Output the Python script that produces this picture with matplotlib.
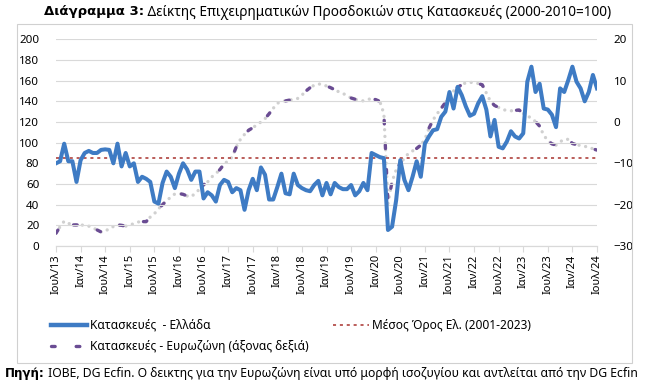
import numpy as np
import matplotlib.pyplot as plt
from matplotlib.lines import Line2D
from matplotlib.patches import Rectangle

plt.rcParams['font.family'] = ['Noto Sans', 'DejaVu Sans']

# Monthly values, Jul 2013 .. Jul 2024
greece = [
    80, 82, 99, 82, 82, 62, 83, 90, 92, 90,
    90, 93, 93.5, 93, 80, 99, 77, 90, 77, 80,
    62, 67, 65, 62, 43, 41, 61, 72, 67, 56,
    70, 80, 74, 64, 72, 72, 46, 52, 49, 43,
    59, 64, 62, 52, 56,
    54, 35, 54, 65, 54, 76, 69, 45, 45, 57,
    70, 51, 50, 70, 59, 56, 54, 53, 59, 63,
    49, 61, 50, 61, 57, 55, 55, 59, 49, 53,
    61, 54, 90, 88, 86, 85, 15.5, 18.7, 44.5, 83,
    64, 54, 67, 82,
    67, 99, 106, 112, 113, 125, 130, 149, 133, 154,
    146, 135, 126, 128, 138, 145, 132, 106, 122, 96,
    94.5, 101, 111, 106, 104, 109, 159, 173.5, 149, 157,
    133, 132, 127, 115, 152.5, 149, 160.6, 173.5, 159, 152.5,
    140, 149, 165.5, 152.5,
]

eurozone = [
    -26.9, -25.3, -24.0, -24.5, -24.9, -24.9, -24.9, -25.0, -25.2, -25.6,
    -26.1, -26.6, -26.5, -25.7, -25.3, -24.9, -25.0, -25.2, -24.9, -24.6,
    -24.2, -24.1, -24.1, -23.0, -22.2, -21.0, -20.0, -19.0, -18.2, -17.4,
    -17.3, -17.5, -17.9, -18.1, -17.2, -16.3, -15.2, -14.5, -13.3, -12.5,
    -11.5, -10.2, -9.4, -8.5, -6.0, -4.2, -3.0, -2.0, -1.4, -0.7,
    0.0, 0.8, 2.0, 3.3, 4.5, 5.0, 5.1, 5.3, 5.5, 5.7,
    6.5, 7.5, 8.3, 8.9, 9.2, 9.1, 8.7, 8.3, 7.8, 7.3,
    6.9, 6.4, 5.8, 5.5, 5.2, 5.1, 5.4, 5.7, 5.4, 5.0,
    2.0, -19.7, -14.4, -11.6, -10.0, -8.8, -7.6, -7.0, -6.4, -5.6,
    -4.2, -1.5, 0.5, 2.0, 3.3, 4.7, 6.0, 7.5, 8.4, 9.0,
    9.5, 9.6, 9.5, 9.3, 9.0, 7.0, 5.0, 4.0, 3.5, 3.0,
    2.8, 2.7, 2.8, 2.9, 2.1, 1.5, 0.9, 0.1, -1.0, -3.2,
    -4.5, -5.3, -5.6, -4.8, -4.2, -4.2, -5.2, -5.5, -5.7, -5.9,
    -6.1, -6.5, -6.8,
]

greece_avg = 85.5

tick_labels = [
    'Ιουλ/13', 'Ιαν/14', 'Ιουλ/14', 'Ιαν/15', 'Ιουλ/15', 'Ιαν/16',
    'Ιουλ/16', 'Ιαν/17', 'Ιουλ/17', 'Ιαν/18', 'Ιουλ/18', 'Ιαν/19',
    'Ιουλ/19', 'Ιαν/20', 'Ιουλ/20', 'Ιαν/21', 'Ιουλ/21', 'Ιαν/22',
    'Ιουλ/22', 'Ιαν/23', 'Ιουλ/23', 'Ιαν/24', 'Ιουλ/24',
]

BLUE = '#3E7BC4'
PURPLE = '#6A4C93'
DOTGRAY = '#D0D0D0'
RED = '#A8322D'
GRID = '#D9D9D9'

months = np.arange(len(greece))

fig = plt.figure(figsize=(6.46, 3.83), dpi=100)
ax = fig.add_axes([56 / 646, 1 - 246 / 383, (597 - 56) / 646, (246 - 39.3) / 383])
ax2 = ax.twinx()

# chart border
fig.patches.append(Rectangle((17 / 646, 1 - 363 / 383), (632 - 17) / 646, (363 - 24) / 383,
                             transform=fig.transFigure, fill=False,
                             edgecolor='#D0D0D0', linewidth=0.8))

ax.set_ylim(0, 200)
ax.set_yticks(np.arange(0, 201, 20))
ax.set_xlim(0, len(greece) - 1)
ax.grid(axis='y', color=GRID, linewidth=0.8)
ax.set_axisbelow(True)

ax2.set_ylim(-30, 20)
ax2.set_yticks(np.arange(-30, 21, 10))

ax.set_xticks(np.arange(0, len(greece), 6))
ax.set_xticklabels(tick_labels, rotation=90, fontsize=8)

for a in (ax, ax2):
    for side in ('top', 'left', 'right'):
        a.spines[side].set_visible(False)
    a.spines['bottom'].set_color(GRID)
    a.tick_params(axis='y', length=0, labelsize=8.3, pad=12)
ax.tick_params(axis='x', length=4, color=GRID, pad=2)

# Eurozone on the right axis: grey dots with sparse purple dashes on top
ax2.plot(months, eurozone, color=DOTGRAY, linewidth=2.4,
         dashes=(0.01, 2.0), dash_capstyle='round', zorder=2)
ax2.plot(months, eurozone, color=PURPLE, linewidth=2.4,
         dashes=(1.1, 6.3), dash_capstyle='round', zorder=3)

ax.axhline(greece_avg, color=RED, linewidth=1.1, linestyle=(0, (2, 2.5)), zorder=3)
ax.plot(months, greece, color=BLUE, linewidth=2.9, solid_joinstyle='round', zorder=4)
ax.set_zorder(ax2.get_zorder() + 1)
ax.patch.set_visible(False)

# title: bold lead-in followed by regular text
title_y = 1 - 12 / 383
t_bold = fig.text(44 / 646, title_y, 'Διάγραμμα 3:', ha='left', va='center',
                  fontsize=9.5, fontweight='bold', family='DejaVu Sans')
fig.add_artist(plt.Annotation(
    ' Δείκτης Επιχειρηματικών Προσδοκιών στις Κατασκευές (2000-2010=100)',
    xy=(1, 0.5), xycoords=t_bold, ha='left', va='center', fontsize=9.8))

# legend
handles = [
    Line2D([], [], color=BLUE, linewidth=3.2),
    Line2D([], [], color=PURPLE, linewidth=2.4, dashes=(1.1, 6.3), dash_capstyle='round'),
    Line2D([], [], color=RED, linewidth=1.1, linestyle=(0, (2, 2.5))),
]
labels = [
    'Κατασκευές  - Ελλάδα',
    'Κατασκευές - Ευρωζώνη (άξονας δεξιά)',
    'Μέσος Όρος Ελ. (2001-2023)',
]
fig.legend(handles, labels, ncol=2, loc='upper left',
           bbox_to_anchor=(40 / 646, 1 - 308 / 383), frameon=False,
           fontsize=8.6, handlelength=3.0, handletextpad=0.3,
           columnspacing=2.0, labelspacing=0.72)

# source line
t_src = fig.text(5 / 646, 1 - 373 / 383, 'Πηγή:', ha='left', va='center',
                 fontsize=8.6, fontweight='bold', family='DejaVu Sans')
fig.add_artist(plt.Annotation(
    ' IOBE, DG Ecfin. Ο δεικτης για την Ευρωζώνη είναι υπό μορφή ισοζυγίου και αντλείται από την DG Ecfin',
    xy=(1, 0.5), xycoords=t_src, ha='left', va='center', fontsize=8.8))

fig.savefig('out.png', dpi=100)
